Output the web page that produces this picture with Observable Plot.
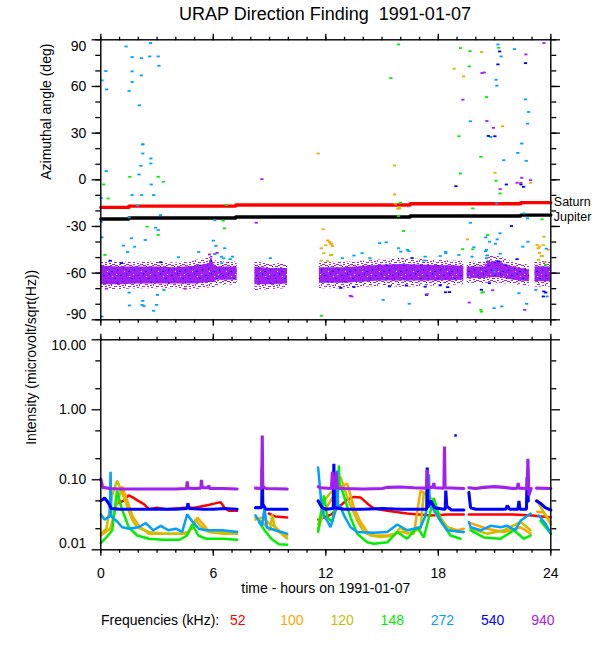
<!DOCTYPE html>
<html>
<head>
<meta charset="utf-8">
<script src="https://cdn.jsdelivr.net/npm/d3@7"></script>
<script src="https://cdn.jsdelivr.net/npm/@observablehq/plot@0.6"></script>
<style>
  body { margin: 0; background: #fff; }
  #wrap { position: relative; width: 600px; height: 650px; font-family: "Liberation Sans", Arial, sans-serif; color: #000; }
  #wrap svg { position: absolute; left: 0; overflow: visible; }
  .title { position: absolute; left: 0; width: 650px; top: 3px; text-align: center; font-size: 18px; line-height: 22px; }
  .legend { position: absolute; top: 611px; left: 101px; font-size: 14px; line-height: 18px; white-space: nowrap; }
  .legend span { position: absolute; top: 0; }
</style>
</head>
<body>
<div id="wrap">
  <div class="title">URAP Direction Finding&nbsp; 1991-01-07</div>
  <div class="legend" id="legend"></div>
</div>
<script>
// ---------------- data ----------------
const freqs = ["52", "100", "120", "148", "272", "540", "940"];
const freqColors = ["#ff0000", "#ffa500", "#c8c000", "#00ee00", "#00a0ff", "#0000ff", "#a020f0"];

const xMajor = [0, 6, 12, 18, 24];
const xMinor = [0,1,2,3,4,5,6,7,8,9,10,11,12,13,14,15,16,17,18,19,20,21,22,23,24];
const yTopMajor = [-90, -60, -30, 0, 30, 60, 90];
const yTopMinor = [-90,-80,-70,-60,-50,-40,-30,-20,-10,0,10,20,30,40,50,60,70,80,90];
const yBotMajor = [0.01, 0.1, 1, 10];
const yBotLabels = ["0.01", "0.10", "1.00", "10.00"];
const yBotMinor = [0.02, 0.05, 0.2, 0.5, 2, 5];

// planet directions (step lines)
const planetT = [0, 1.5, 7.2, 16.5, 22.4, 24];
const saturnAz = [-17.7, -16.9, -16.2, -15.4, -14.7, -14.7];
const jupiterAz = [-25.2, -24.6, -23.9, -23.3, -22.7, -22.7];

// dense 940 kHz direction band: segment, time, core low/high (deg)
const bandSeg = [1,1,1,1,1,1,1,1,1,1,1, 2,2,2, 3,3,3,3,3,3, 4,4,4,4,4,4, 5,5];
const bandT   = [0,1,2,3,4,5,5.8,5.9,6.0,6.2,7.27, 8.22,9,9.96, 11.66,13,14.9,16,17.5,19.36, 19.54,20.5,20.6,21.3,22,22.86, 23.16,24];
const bandLo  = [-67.5,-67.5,-67,-67,-67,-67,-66,-66,-66,-64.5,-64.5, -67.5,-67.5,-67, -66.5,-66.5,-65,-65,-65,-64.5, -63.5,-63.5,-63,-63,-64.5,-65.5, -65.5,-65.5];
const bandHi  = [-55.5,-56,-56,-56,-56.5,-55.5,-54,-49,-54,-56,-56, -56,-57,-57, -56.5,-56.5,-55,-54.5,-55,-55.5, -56,-56,-52,-53,-56,-58, -56,-56];
const fringeW = [3,3,3,3,3,3.5,3.5,3,3.5,3.5,3, 4,3,3, 3.5,3.5,3.5,4,3.5,3, 3,3,3.5,3.5,3,3, 3.5,3.5];

// scattered direction points [hour, azimuth]
const pts52 = [];
const pts100 = [[11.86,-31.8],[12.1,-39],[12.2,-40],[12.3,-41.2],[12.35,-42.5],[12.25,-41],[11.76,-44],[15.67,-9.4],[15.71,-15.6],[15.84,-18.6],[23.33,-44],[23.4,-47],[23.88,-45],[23.27,-41.9],[19.55,-38.3],[23.4,-43],[23.55,-49]];
const pts120 = [[11.59,16.9],[15.67,9.2],[18.84,71.4],[19.35,66.5],[20.31,82.1],[21.43,34.4],[21.02,4.5],[22.92,-1.9],[23.63,-36.6],[23.6,-42],[23.5,-49],[23.35,-51.5],[11.9,-47.2],[12.31,-48.3],[15.94,-18.4],[15.9,-17.5],[12,-42.1],[12.25,-48.5],[12.1,-52.2],[11.76,-52],[23.7,-53]];
const pts148 = [[0.16,-3],[0.39,-12],[0.22,-48.3],[1.55,1.9],[2.24,22.9],[2.47,-30.1],[3.06,1.9],[3.33,-1.3],[3.06,-35.5],[6.69,-16.2],[6.53,-26.3],[6.59,-31.2],[11.76,-87.4],[15.47,65.4],[15.88,87],[15.98,-14.7],[15.88,-23.3],[16.14,-32.9],[19.18,84.7],[19.69,82.7],[19.65,72.9],[19.1,28],[19.18,4.1],[19.84,-18.4],[20.57,53.2],[20.27,14.8],[21.08,-0.6],[21.29,-8.8],[21.22,84.9],[19.84,-44.7],[20.33,-72.5],[20.27,-83.6],[20.63,-35.5],[23.53,-25.4],[23.73,-54.7],[19.3,-44.6],[20.4,-72.2],[20.3,-84.8]];
const pts272 = [[0.06,63.9],[0.27,69.9],[0.31,58.1],[0.29,5.6],[0.02,-11.8],[0.02,-26.9],[0.06,-37],[0.06,-87.9],[1.35,85.7],[1.67,78.9],[1.67,69.7],[1.67,62.9],[1.51,57.1],[2.16,78.2],[2.16,67.1],[2.65,87.9],[2.61,79.3],[3.06,79.3],[3.1,73.3],[2.06,47.9],[2.24,22.7],[2.24,16.9],[2.14,9],[2.04,3.4],[2.67,13.7],[2.67,10.5],[1.67,-9.8],[1.96,-16.5],[2.18,-9.8],[2.82,-9.8],[2.69,-3],[3.18,-22.7],[1.51,-24.2],[1.63,-37.6],[1.2,-42.3],[1.8,-43],[2.37,-38.7],[2.92,-30.8],[3.06,-32.3],[1.43,-46.4],[1.51,-72.5],[1.53,-80.8],[2.24,-77.8],[2.2,-80.4],[2.3,-81.2],[3.02,-74],[2.98,-80.4],[2.82,-84.2],[3.37,-70.8],[4.14,-49.8],[5.22,-46.4],[6.0,-39.1],[6.14,-42.5],[6.08,-47.7],[6.43,-49.4],[6.45,-53.6],[6.61,-44],[6.08,-25.9],[7.02,-49.4],[6.9,-51],[6.55,-50.5],[9.04,-50.4],[12.88,-50.4],[13.94,-47.2],[14.35,-50.4],[15.22,-40.2],[15.88,-44],[16.0,-46.2],[16.35,-45],[17.3,-49.4],[18.1,-49],[16.45,-79.7],[15.06,-77.2],[18.4,-47.2],[19.1,-48.3],[19.71,-27.6],[19.71,37.6],[19.8,-49.4],[20.53,-37],[20.73,-39.8],[20.57,-45],[20.57,-50.4],[20.98,-59],[21.29,-34.4],[21.14,-38.3],[21.08,64.3],[21.12,60.5],[21.18,87],[21.35,79.3],[20.8,27.6],[21.12,-15.2],[21.49,12.6],[22.06,84],[22.24,17.3],[22.45,23.3],[22.65,51.7],[22.82,43.6],[22.76,36.1],[22.69,12.2],[22.57,-21.6],[22.76,-24.8],[22.78,-39.8],[22.51,-43],[22.3,-72.9],[22.71,-79.7],[23.2,-70.8],[23.8,-75],[23.76,-44.3],[20.98,-82.5],[21.39,-81.4],[13.5,-48.7],[14.87,-40.7],[16.43,-45.9],[17.23,-51.9],[18.39,-46.3],[20.52,-45.9],[19.9,-43.4],[20.6,-48.6],[21.05,-41.1],[21.3,-47.5]];
const pts540 = [[18.94,-4.1],[20.67,28.2],[21.02,28],[21.27,82.5],[21.18,74.2],[21.63,-3],[21.9,-29.7],[22.41,-3],[22.55,-4.5],[22.65,75],[18.39,-72.3],[17.37,-74],[20.73,-66.5],[23.63,-71.8],[23.73,-72.5],[23.6,-75],[18.1,-67.9],[18.6,-72.2],[18.5,-69],[20.3,-70.7],[13.5,-68.9],[12.8,-69.5],[15.4,-68.5],[16.3,-68],[0.5,-52],[1.1,-53.5],[3.2,-53],[16.6,-50.3],[17.3,-68.7],[21.2,-52.4],[22.2,-51]];
const pts940 = [[20.33,68.6],[20.45,69],[19.31,51.5],[20.59,37.8],[20.94,33.4],[22.2,-1.9],[22.45,1.3],[22.67,80.6],[22.92,-0.2],[23.63,87.9],[8.59,0.4],[8.29,-27.6],[19.65,-78.9],[22.61,-83.6],[13.39,-75],[13.3,-74.6],[17.4,-73.5],[20.9,-71],[22.4,-2],[21.3,-6],[5.8,-48],[6.2,-47],[0.3,-70],[4.5,-70]];

// intensity series [hour, microvolt/sqrt(Hz)], null = data gap
const int52 = [[0.96,0.047],[1.2,0.05],[1.48,0.06],[1.7,0.056],[2.0,0.05],[2.3,0.045],[2.56,0.038],[3,0.04],[3.5,0.038],[4,0.039],[4.5,0.04],[5,0.04],[5.4,0.042],[5.8,0.044],[6.1,0.046],[6.38,0.048],[6.6,0.04],[6.83,0.036],[7.27,0.036], null,
  [8.96,0.033],[9.3,0.03],[9.94,0.029], null,
  [11.6,0.027],[11.9,0.029],[12.3,0.032],[12.79,0.043],[13.14,0.052],[13.5,0.057],[13.85,0.056],[14.21,0.046],[14.56,0.039],[15.28,0.036],[16.34,0.033],[17.59,0.031],[18.5,0.032],[19.36,0.032], null,
  [19.63,0.032],[21,0.032],[22,0.032],[23,0.031],[24,0.029]];
const int100 = [[0,0.016],[0.5,0.02],[0.9,0.05],[1.14,0.08],[1.41,0.05],[1.7,0.03],[2.03,0.022],[2.56,0.017],[3.5,0.017],[4.5,0.017],[4.87,0.02],[5.15,0.029],[5.4,0.024],[5.8,0.018],[6.5,0.018],[7.27,0.018], null,
  [8.25,0.027],[8.6,0.029],[8.96,0.024],[9.32,0.021],[9.67,0.017],[9.94,0.016], null,
  [11.6,0.02],[11.9,0.035],[12.43,0.06],[12.79,0.08],[13.14,0.088],[13.5,0.04],[13.85,0.025],[14.21,0.018],[14.6,0.016],[15.28,0.016],[16,0.018],[16.7,0.017],[17.05,0.07],[17.41,0.06],[17.8,0.034],[18.3,0.022],[19.0,0.019],[19.36,0.02], null,
  [19.72,0.024],[20.6,0.02],[21.5,0.018],[22.39,0.021],[22.92,0.017], null,
  [23.28,0.035],[23.63,0.034],[24,0.025]];
const int120 = [[0,0.017],[0.3,0.02],[0.6,0.06],[0.87,0.097],[1.1,0.07],[1.41,0.041],[1.7,0.026],[1.94,0.021],[2.56,0.018],[3.3,0.017],[4.2,0.017],[4.7,0.018],[5.05,0.027],[5.3,0.022],[5.76,0.018],[6.5,0.017],[7.27,0.017], null,
  [8.25,0.029],[8.6,0.025],[9.03,0.019],[9.14,0.032],[9.3,0.02],[9.94,0.0145], null,
  [11.6,0.023],[11.9,0.05],[12.43,0.074],[12.79,0.11],[13.14,0.057],[13.68,0.026],[14.03,0.018],[14.39,0.016],[14.92,0.0152],[15.63,0.016],[15.99,0.021],[16.34,0.017],[17.05,0.02],[17.23,0.066],[17.59,0.056],[18.12,0.029],[18.48,0.021],[19.01,0.018],[19.36,0.018], null,
  [19.72,0.02],[20.61,0.017],[21.5,0.019],[22.39,0.025],[22.92,0.019], null,
  [23.28,0.05],[23.6,0.035],[24,0.023]];
const int148 = [[0,0.0125],[0.3,0.015],[0.61,0.019],[0.87,0.07],[1.1,0.04],[1.49,0.021],[1.94,0.016],[2.56,0.0144],[3.3,0.0139],[4.2,0.0139],[4.6,0.016],[4.87,0.023],[5.2,0.016],[5.6,0.0144],[6.5,0.0144],[7.27,0.0139], null,
  [8.43,0.025],[8.8,0.018],[9.14,0.014],[9.5,0.012],[9.94,0.0118], null,
  [11.59,0.018],[11.9,0.06],[12.08,0.029],[12.34,0.025],[12.66,0.07],[12.7,0.16],[12.74,0.08],[12.88,0.07],[13.32,0.029],[13.68,0.0169],[14.21,0.0128],[14.56,0.0122],[15.28,0.0128],[15.81,0.018],[16.34,0.0144],[16.88,0.021],[17.23,0.015],[17.76,0.055],[18.12,0.026],[18.65,0.016],[19.19,0.0144], null,
  [19.72,0.019],[20.43,0.015],[21.32,0.0144],[22.03,0.019],[22.56,0.0144],[22.92,0.016], null,
  [23.45,0.026],[24,0.017]];
const int272 = [[0,0.032],[0.2,0.027],[0.48,0.03],[0.52,0.13],[0.56,0.03],[0.9,0.025],[1.14,0.021],[1.5,0.02],[2,0.021],[2.4,0.024],[2.8,0.019],[3.2,0.022],[3.6,0.019],[4.0,0.02],[4.34,0.018],[4.61,0.032],[4.9,0.025],[5.23,0.02],[5.6,0.019],[6,0.019],[6.5,0.019],[7.27,0.018], null,
  [8.25,0.031],[8.6,0.022],[8.73,0.04],[8.85,0.021],[9.3,0.019],[9.94,0.017], null,
  [11.59,0.15],[11.75,0.05],[11.9,0.03],[12.08,0.026],[12.25,0.021],[12.57,0.04],[12.61,0.136],[12.65,0.045],[12.8,0.04],[13.0,0.03],[13.32,0.021],[13.68,0.018],[14.5,0.0175],[15.28,0.018],[15.81,0.023],[16.34,0.019],[17.05,0.021],[17.3,0.03],[17.46,0.05],[17.5,0.12],[17.54,0.05],[17.7,0.04],[18.12,0.026],[18.48,0.019],[19.36,0.018], null,
  [19.63,0.025],[19.72,0.021],[20.25,0.019],[20.8,0.022],[21.32,0.021],[21.68,0.022],[22.1,0.019],[22.39,0.026],[22.92,0.033], null,
  [23.35,0.031],[23.7,0.024],[24,0.017]];
const int540 = [[0,0.05],[0.2,0.055],[0.4,0.047],[0.55,0.039],[1,0.038],[2,0.038],[3,0.038],[4,0.038],[4.6,0.039],[4.65,0.046],[4.7,0.039],[5.5,0.038],[6,0.038],[6.6,0.039],[7.27,0.038], null,
  [8.25,0.04],[8.58,0.04],[8.61,0.15],[8.64,0.045],[8.8,0.038],[9.94,0.038], null,
  [11.59,0.05],[11.8,0.04],[12.0,0.038],[12.4,0.039],[12.43,0.17],[12.46,0.04],[13,0.038],[14,0.038],[15,0.039],[16,0.038],[17,0.038],[17.38,0.038],[17.41,0.15],[17.44,0.04],[17.6,0.05],[17.8,0.04],[18.3,0.038],[18.37,0.038],[18.4,0.07],[18.45,0.042],[18.7,0.037],[19.36,0.037], null,
  [19.63,0.066],[19.72,0.04],[20,0.038],[21,0.038],[21.6,0.038],[21.68,0.043],[21.8,0.038],[22.25,0.038],[22.3,0.05],[22.35,0.038],[22.7,0.038],[22.74,0.11],[22.8,0.05], null,
  [23.24,0.05],[23.5,0.045],[23.7,0.04],[24,0.037]];
const int540Spots = [[18.92, 0.43]];
const int940 = [[0,0.103],[0.1,0.078],[0.5,0.075],[1,0.074],[2,0.074],[3,0.074],[4,0.074],[4.57,0.075],[4.61,0.095],[4.65,0.076],[5,0.075],[5.33,0.076],[5.37,0.1],[5.41,0.077],[5.72,0.077],[5.76,0.083],[5.8,0.075],[6.5,0.075],[7.27,0.074], null,
  [8.25,0.076],[8.58,0.075],[8.61,0.43],[8.64,0.08],[8.8,0.075],[9.94,0.074], null,
  [11.6,0.08],[11.7,0.077],[12.3,0.075],[12.35,0.13],[12.4,0.076],[12.5,0.076],[12.55,0.13],[12.6,0.076],[13,0.075],[14,0.074],[15,0.075],[15.3,0.078],[16,0.079],[16.7,0.077],[17.37,0.076],[17.41,0.14],[17.45,0.078],[17.72,0.078],[17.76,0.09],[17.8,0.077],[18.3,0.076],[18.33,0.3],[18.36,0.077],[19.36,0.075], null,
  [19.63,0.077],[20,0.075],[20.43,0.078],[21,0.08],[21.5,0.078],[22,0.075],[22.22,0.076],[22.26,0.09],[22.3,0.076],[22.74,0.075],[22.78,0.2],[22.83,0.06],[22.95,0.075], null,
  [23.24,0.076],[24,0.075]];

// ---------------- build ----------------
const W = 600, ML = 100.3, MR = 49.7;
const font = '"Liberation Sans", Arial, sans-serif';
const dash = { draw(ctx) { ctx.rect(-1.6, -0.9, 3.2, 1.8); } };

const toRows = (arr, f) => arr.map(p => p ? {t: p[0], v: p[1], f} : {t: NaN, v: NaN, f});
const band = bandT.map((t, i) => ({seg: bandSeg[i], t, lo: bandLo[i], hi: bandHi[i], flo: bandLo[i] - fringeW[i], fhi: bandHi[i] + fringeW[i]}));
const planets = planetT.map((t, i) => ({t, sat: saturnAz[i], jup: jupiterAz[i]}));
const ptSets = [pts52, pts100, pts120, pts148, pts272, pts540, pts940];
const intSets = [int52, int100, int120, int148, int272, int540, int940];

function ticksMarks(yMajor, yMinor) {
  const sw = 1.3;
  return [
    Plot.axisX(xMinor, {anchor: "top", tickSize: 3.5, tickFormat: () => "", label: null, strokeWidth: sw}),
    Plot.axisX(xMajor, {anchor: "top", tickSize: 6.5, tickFormat: () => "", label: null, strokeWidth: sw}),
    Plot.axisX(xMinor, {anchor: "bottom", tickSize: 3.5, tickFormat: () => "", label: null, strokeWidth: sw}),
    Plot.axisX(xMajor, {anchor: "bottom", tickSize: 6.5, tickFormat: () => "", label: null, strokeWidth: sw}),
    Plot.axisY(yMinor, {anchor: "left", tickSize: 5, tickFormat: () => "", label: null, strokeWidth: sw}),
    Plot.axisY(yMajor, {anchor: "left", tickSize: 8.7, tickFormat: () => "", label: null, strokeWidth: sw}),
    Plot.axisY(yMinor, {anchor: "right", tickSize: 5, tickFormat: () => "", label: null, strokeWidth: sw}),
    Plot.axisY(yMajor, {anchor: "right", tickSize: 8.7, tickFormat: () => "", label: null, strokeWidth: sw}),
    Plot.frame({stroke: "#000", strokeWidth: 1.4})
  ];
}

// ----- top panel -----
const topMarks = [
  Plot.areaY(band, {x: "t", y1: "flo", y2: "fhi", z: "seg", fill: "url(#fringePat)", curve: "linear"}),
  Plot.areaY(band, {x: "t", y1: "lo", y2: "hi", z: "seg", fill: "url(#corePat)", curve: "linear"}),
  Plot.line(planets, {x: "t", y: "sat", stroke: "#ff0000", strokeWidth: 3.4, curve: "step-after"}),
  Plot.line(planets, {x: "t", y: "jup", stroke: "#000", strokeWidth: 3.4, curve: "step-after"}),
  ...ptSets.map((s, i) => Plot.dot(s, {x: d => d[0], y: d => d[1], fill: freqColors[i], stroke: null, symbol: dash, r: 1})),
  Plot.text([planets[planets.length - 1]], {x: "t", y: "sat", text: () => "Saturn", textAnchor: "start", dx: 3, dy: -1, fontSize: 12.5}),
  Plot.text([planets[planets.length - 1]], {x: "t", y: "jup", text: () => "Jupiter", textAnchor: "start", dx: 3, dy: 1.5, fontSize: 12.5}),
  ...ticksMarks(yTopMajor, yTopMinor),
  Plot.text(yTopMajor.slice(1, -1), {x: 0, y: d => d, text: d => String(d), textAnchor: "end", dx: -14.5, fontSize: 14}),
  Plot.text([yTopMajor[yTopMajor.length - 1]], {x: 0, y: d => d, text: d => String(d), textAnchor: "end", dx: -14.5, dy: 6.4, fontSize: 14}),
  Plot.text([yTopMajor[0]], {x: 0, y: d => d, text: d => String(d), textAnchor: "end", dx: -14.5, dy: -5.3, fontSize: 14}),
  Plot.text(["Azimuthal angle (deg)"], {frameAnchor: "left", text: d => d, rotate: -90, dx: -54, fontSize: 14})
];

const topChart = Plot.plot({
  width: W, height: 330,
  marginLeft: ML, marginRight: MR, marginTop: 39.3, marginBottom: 10.7,
  style: {fontFamily: font, fontSize: "14px", background: "transparent", color: "#000", overflow: "visible"},
  x: {domain: [0, 24]},
  y: {domain: [-90, 90]},
  marks: topMarks
});
topChart.insertAdjacentHTML("afterbegin", `
<defs>
  <pattern id="corePat" patternUnits="userSpaceOnUse" width="17" height="13">
    <rect width="17" height="13" fill="#a020f0"/>
    <rect x="1" y="2" width="2" height="1" fill="#0000ff"/>
    <rect x="7" y="0" width="1" height="2" fill="#0000ff"/>
    <rect x="12" y="5" width="2" height="1" fill="#0000ff"/>
    <rect x="4" y="8" width="1" height="1" fill="#0000ff"/>
    <rect x="9" y="11" width="2" height="1" fill="#0000ff"/>
    <rect x="15" y="9" width="1" height="2" fill="#0000ff"/>
    <rect x="3" y="5" width="1" height="1" fill="#2020ff"/>
    <rect x="10" y="3" width="1" height="1" fill="#ffffff"/>
    <rect x="5" y="11" width="1" height="1" fill="#ffffff"/>
    <rect x="14" y="1" width="1" height="1" fill="#ffffff"/>
  </pattern>
  <pattern id="fringePat" patternUnits="userSpaceOnUse" width="14" height="8">
    <rect x="0" y="0" width="3" height="1" fill="#a020f0"/>
    <rect x="3" y="1" width="3" height="1" fill="#a020f0"/>
    <rect x="7" y="0" width="2" height="1" fill="#a020f0"/>
    <rect x="9" y="2" width="3" height="1" fill="#a020f0"/>
    <rect x="12" y="1" width="2" height="1" fill="#a020f0"/>
    <rect x="0" y="3" width="2" height="1" fill="#a020f0"/>
    <rect x="5" y="4" width="3" height="1" fill="#a020f0"/>
    <rect x="10" y="5" width="2" height="1" fill="#a020f0"/>
    <rect x="13" y="4" width="1" height="2" fill="#a020f0"/>
    <rect x="2" y="6" width="3" height="1" fill="#a020f0"/>
    <rect x="7" y="6" width="2" height="1" fill="#a020f0"/>
    <rect x="11" y="7" width="2" height="1" fill="#a020f0"/>
    <rect x="6" y="2" width="1" height="1" fill="#0000ff"/>
  </pattern>
</defs>`);
topChart.style.top = "0px";

// ----- bottom panel -----
const botMarks = [
  ...intSets.map((s, i) => Plot.line(toRows(s, freqs[i]), {x: "t", y: "v", stroke: freqColors[i], strokeWidth: i >= 5 ? 3.1 : 2.5, curve: "linear", strokeLinejoin: "bevel"})),
  Plot.dot(int540Spots, {x: d => d[0], y: d => d[1], fill: freqColors[5], stroke: null, symbol: "square", r: 1.4}),
  ...ticksMarks(yBotMajor, yBotMinor),
  Plot.text(yBotMajor.slice(1, -1), {x: 0, y: d => d, text: (d, i) => yBotLabels[i + 1], textAnchor: "end", dx: -14.5, fontSize: 14}),
  Plot.text([yBotMajor[yBotMajor.length - 1]], {x: 0, y: d => d, text: () => yBotLabels[yBotLabels.length - 1], textAnchor: "end", dx: -14.5, dy: 6, fontSize: 14}),
  Plot.text([yBotMajor[0]], {x: 0, y: d => d, text: () => yBotLabels[0], textAnchor: "end", dx: -14.5, dy: -6, fontSize: 14}),
  Plot.text(xMajor, {x: d => d, y: 0.01, text: d => String(d), dy: 24, fontSize: 14}),
  Plot.text(["time - hours on 1991-01-07"], {frameAnchor: "bottom", text: d => d, dy: 43.4, fontSize: 14}),
  Plot.text(["Intensity (microvolt/sqrt(Hz))"], {frameAnchor: "left", text: d => d, rotate: -90, dx: -69, fontSize: 14})
];

const botChart = Plot.plot({
  width: W, height: 320,
  marginLeft: ML, marginRight: MR, marginTop: 9.3, marginBottom: 100.7,
  style: {fontFamily: font, fontSize: "14px", background: "transparent", color: "#000", overflow: "visible"},
  x: {domain: [0, 24]},
  y: {type: "log", domain: [0.01, 10]},
  marks: botMarks
});
botChart.style.top = "330px";

const wrap = document.getElementById("wrap");
wrap.appendChild(topChart);
wrap.appendChild(botChart);

// legend
const legend = document.getElementById("legend");
const lab = document.createElement("span");
lab.textContent = "Frequencies (kHz):";
lab.style.left = "0px";
legend.appendChild(lab);
freqs.forEach((f, i) => {
  const s = document.createElement("span");
  s.textContent = f;
  s.style.color = freqColors[i];
  s.style.left = (129 + 50.2 * i) + "px";
  legend.appendChild(s);
});
</script>
</body>
</html>
